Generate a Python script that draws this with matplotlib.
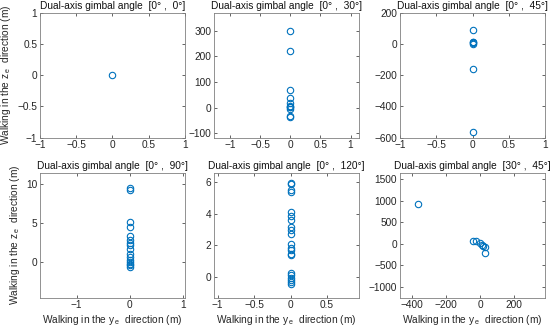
import matplotlib
matplotlib.use("Agg")
import matplotlib.pyplot as plt

plt.rcParams['font.family'] = ['Liberation Sans', 'DejaVu Sans']
plt.rcParams['axes.unicode_minus'] = True

BLUE = '#0072BD'
GRAY = '#262626'

titles = [
    'Dual-axis gimbal angle  [0° ,  0°]',
    'Dual-axis gimbal angle  [0° ,  30°]',
    'Dual-axis gimbal angle  [0° ,  45°]',
    'Dual-axis gimbal angle  [0° ,  90°]',
    'Dual-axis gimbal angle  [0° ,  120°]',
    'Dual-axis gimbal angle  [30° ,  45°]',
]

# panel data (y_e, z_e)
p1_y = [0.0]
p1_z = [0.0]

p2_y = [0, 0, 0, 0, 0, 0, 0, 0, 0, 0, 0]
p2_z = [300, 220, 68, 39, 17, 7, 1, -4, -33, -38, 3]

p3_y = [0, 0, 0, 0, 0, 0, 0]
p3_z = [90, 15, 10, 5, 0, -160, -565]

p4_y = [0] * 16
p4_z = [9.45, 9.15, 5.1, 4.5, 3.3, 2.8, 2.4, 2.15, 1.75, 1.1, 0.7, 0.25, 0.0, -0.2, -0.4, -0.65]

p5_y = [0] * 21
p5_z = [5.94, 5.85, 5.47, 5.37, 4.1, 3.83, 3.62, 3.16, 2.99, 2.7, 2.1, 1.85,
        1.68, 1.47, 1.37, 0.25, 0.1, -0.04, -0.17, -0.32, -0.46]

p6_y = [-365, -40, -22, -2, 8, 18, 28, 31]
p6_z = [935, 77, 61, 14, -16, -40, -79, -220]

ys = [p1_y, p2_y, p3_y, p4_y, p5_y, p6_y]
zs = [p1_z, p2_z, p3_z, p4_z, p5_z, p6_z]

xlims = [(-1, 1), (-1.27, 1.14), (-1, 1), (-1.69, 1.04), (-1.05, 0.94), (-470, 380)]
ylims = [(-1, 1), (-117, 370), (-600, 200), (-4.5, 11.4), (-1.3, 6.57), (-1248, 1655)]
xticks = [[-1, -0.5, 0, 0.5, 1], [-1, -0.5, 0, 0.5, 1], [-1, -0.5, 0, 0.5, 1],
          [-1, 0, 1], [-1, -0.5, 0, 0.5], [-400, -200, 0, 200]]
yticks = [[-1, -0.5, 0, 0.5, 1], [-100, 0, 100, 200, 300], [-600, -400, -200, 0, 200],
          [0, 5, 10], [0, 2, 4, 6], [-1000, -500, 0, 500, 1000, 1500]]

W, H = 550, 334
fig = plt.figure(figsize=(W / 100, H / 100), dpi=100)

col_left = [40, 214, 400]
col_w = 145
row_top = [12.7, 172.7]
row_h = 125

ylabel = r'Walking in the $\mathregular{z_{\,e}}$  direction (m)'
xlabel = r'Walking in the $\mathregular{y_{\,e}}$  direction (m)'

fs = 7.3
for i in range(6):
    r, c = divmod(i, 3)
    left = col_left[c] / W
    bottom = 1 - (row_top[r] + row_h) / H
    ax = fig.add_axes([left, bottom, col_w / W, row_h / H])
    ax.plot(ys[i], zs[i], 'o', mfc='none', mec=BLUE, ms=4.6, mew=0.8)
    ax.set_xlim(*xlims[i])
    ax.set_ylim(*ylims[i])
    ax.set_xticks(xticks[i])
    ax.set_yticks(yticks[i])
    ax.set_yticklabels([f'{t:g}'.replace('-', '\u2212') for t in yticks[i]])
    ax.set_xticklabels([f'{t:g}'.replace('-', '\u2212') for t in xticks[i]])
    ax.tick_params(direction='in', top=True, right=True, length=2, width=0.5,
                   labelsize=fs, colors=GRAY, pad=2)
    for s in ax.spines.values():
        s.set_color('#808080')
        s.set_linewidth(0.6)
    ax.set_title(titles[i], fontsize=fs, color='#111111', pad=2.5)
    if c == 0:
        ax.set_ylabel(ylabel, fontsize=fs, color=GRAY, labelpad=3)
    if r == 1:
        ax.set_xlabel(xlabel, fontsize=fs, color=GRAY, labelpad=2)

fig.savefig('out.png', dpi=100)
